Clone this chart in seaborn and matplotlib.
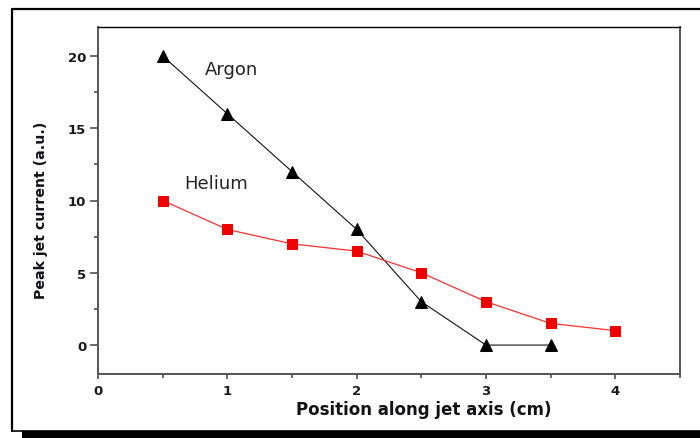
import matplotlib
matplotlib.use("Agg")
import matplotlib.pyplot as plt
import seaborn as sns
import pandas as pd
from matplotlib.patches import Rectangle
from matplotlib.lines import Line2D
from matplotlib.ticker import MultipleLocator

argon_x = [0.5, 1.0, 1.5, 2.0, 2.5, 3.0, 3.5]
argon_y = [20, 16, 12, 8, 3, 0, 0]
helium_x = [0.5, 1.0, 1.5, 2.0, 2.5, 3.0, 3.5, 4.0]
helium_y = [10, 8, 7, 6.5, 5, 3, 1.5, 1]
x_ticks = [0, 1, 2, 3, 4]
y_ticks = [0, 5, 10, 15, 20]

sns.set_theme(style="ticks")
plt.rcParams['font.family'] = ['DejaVu Sans']

fig = plt.figure(figsize=(7, 4.39), dpi=100)
W, H = 700, 439
ax = fig.add_axes([98 / W, 1 - 375 / H, (680 - 98) / W, (375 - 28) / H])

df_ar = pd.DataFrame({"x": argon_x, "y": argon_y})
df_he = pd.DataFrame({"x": helium_x, "y": helium_y})
sns.lineplot(data=df_ar, x="x", y="y", ax=ax, color="#111111", lw=0.8,
             marker="^", markersize=9, markeredgecolor="black", markerfacecolor="black")
sns.lineplot(data=df_he, x="x", y="y", ax=ax, color="#ff3030", lw=0.9,
             marker="s", markersize=6.5, markeredgecolor="#f00000", markerfacecolor="#f00000")

ax.set_xlim(0, 4.5)
ax.set_ylim(-2, 22)
ax.xaxis.set_minor_locator(MultipleLocator(0.5))
ax.yaxis.set_minor_locator(MultipleLocator(2.5))
ax.set_xticks(x_ticks)
ax.set_xticklabels([str(v) for v in x_ticks], fontweight="bold")
ax.set_yticks(y_ticks)
ax.set_yticklabels([str(v) for v in y_ticks], fontweight="bold")
ax.tick_params(axis="x", which="major", direction="out", length=3.5, width=1.1,
               colors="#444444", labelcolor="#1a1a22", labelsize=9.5, pad=4)
ax.tick_params(axis="x", which="minor", direction="out", length=3, width=1.1, colors="#444444")
ax.tick_params(axis="y", which="major", direction="out", length=6, width=1.1,
               colors="#444444", labelcolor="#1a1a22", labelsize=9.5, pad=2.5)
ax.tick_params(axis="y", which="minor", direction="out", length=3, width=1.1, colors="#444444")

for side in ["left", "bottom", "right"]:
    ax.spines[side].set_color("#555555")
    ax.spines[side].set_linewidth(1.4)
ax.spines["top"].set_color("black")
ax.spines["top"].set_linewidth(1)

ax.set_xlabel("Position along jet axis (cm)", fontsize=12, fontweight="bold", color="#111118")
ax.set_ylabel("Peak jet current (a.u.)", fontsize=10.2, fontweight="bold", color="#111118")
ax.xaxis.set_label_coords((424 - 98) / (680 - 98), -(401 - 375) / (375 - 28))
ax.yaxis.set_label_coords(-(98 - 48) / (680 - 98), (375 - 210) / (375 - 28))

ax.text(0.83, 19.1, "Argon", fontsize=13, color="#222228", va="center", ha="left")
ax.text(0.67, 11.2, "Helium", fontsize=13, color="#222228", va="center", ha="left")

# outer frame with shadow
fig.add_artist(Rectangle((22 / W, 0), 1, (439 - 432) / H + 0.001, transform=fig.transFigure,
                         facecolor="black", edgecolor="none"))
fig.add_artist(Line2D([12 / W, 12 / W], [1 - 10 / H, 1 - 432 / H], transform=fig.transFigure,
                      color="black", lw=1.6))
fig.add_artist(Line2D([12 / W, 1], [1 - 10 / H, 1 - 10 / H], transform=fig.transFigure,
                      color="black", lw=1.6))
fig.add_artist(Line2D([12 / W, 1], [1 - 432 / H, 1 - 432 / H], transform=fig.transFigure,
                      color="black", lw=1.2))

fig.savefig("out.png", dpi=100, facecolor="white")
